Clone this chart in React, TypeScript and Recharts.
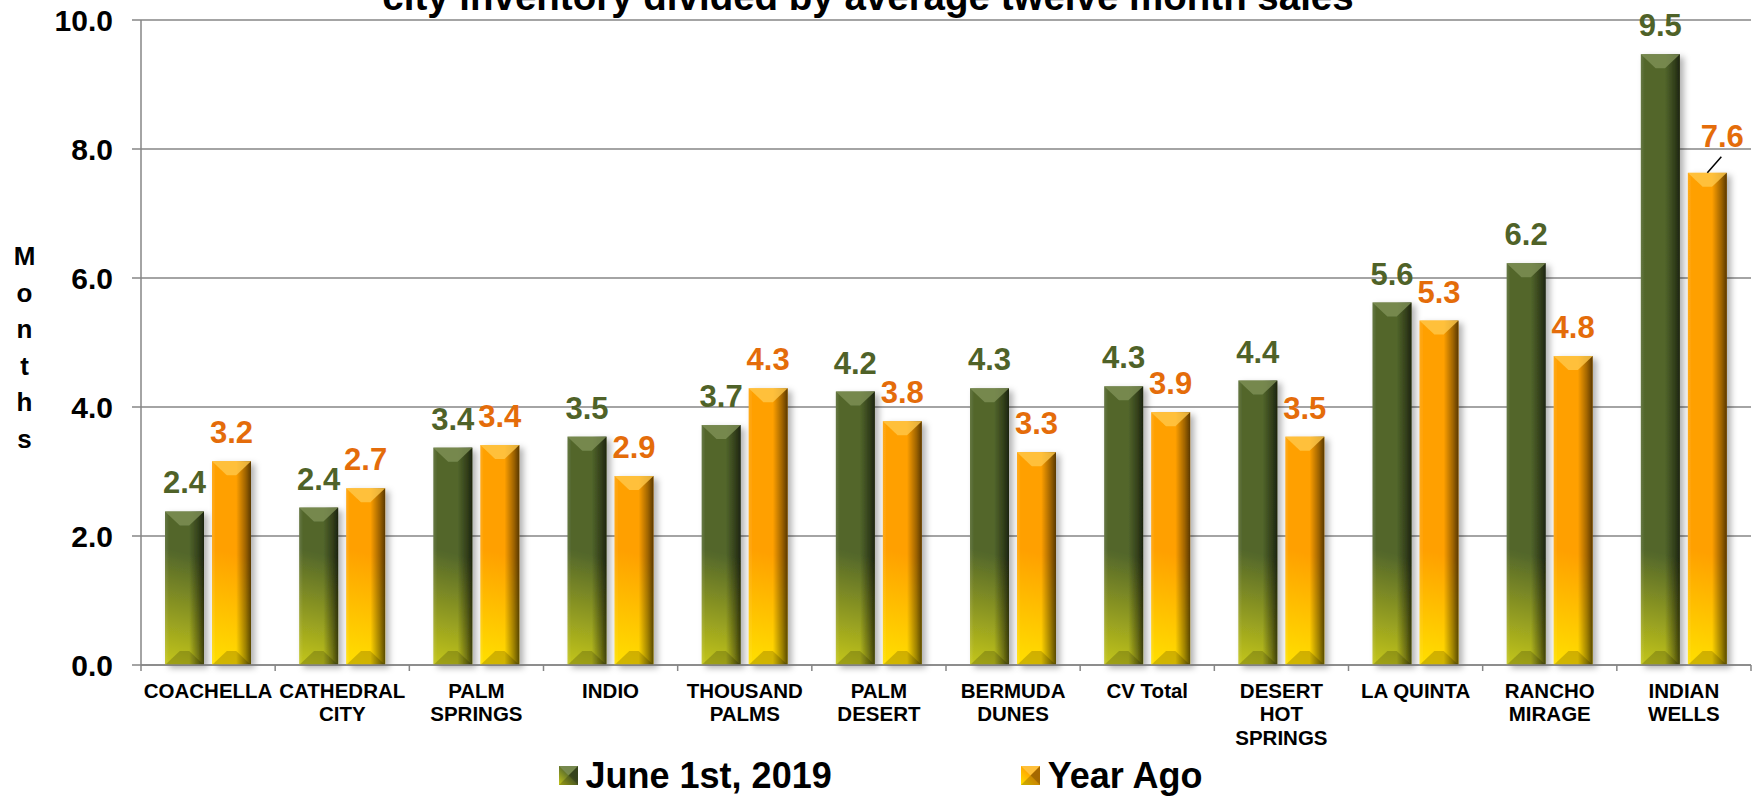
import React from 'react';
import { BarChart, Bar, XAxis, YAxis, CartesianGrid, Legend, LabelList } from 'recharts';

const FONT = '"Liberation Sans", Arial, Helvetica, sans-serif';

const categories = [
  'COACHELLA',
  'CATHEDRAL\nCITY',
  'PALM\nSPRINGS',
  'INDIO',
  'THOUSAND\nPALMS',
  'PALM\nDESERT',
  'BERMUDA\nDUNES',
  'CV Total',
  'DESERT\nHOT\nSPRINGS',
  'LA QUINTA',
  'RANCHO\nMIRAGE',
  'INDIAN\nWELLS',
];
const june2019 = [2.38, 2.44, 3.37, 3.54, 3.72, 4.24, 4.29, 4.32, 4.41, 5.62, 6.23, 9.47];
const yearAgo = [3.16, 2.74, 3.41, 2.93, 4.29, 3.78, 3.3, 3.92, 3.54, 5.34, 4.79, 7.63];
const yTicks = [0, 2, 4, 6, 8, 10];
const seriesNames = ['June 1st, 2019', 'Year Ago'];
const titleText = 'city inventory divided by average twelve month sales';
const yAxisTitle = 'Months';
const LEADER_INDEX = 11;

const rows = categories.map((name, i) => ({ name, june: june2019[i], ago: yearAgo[i] }));

const GRID = '#868686';

const PALETTE: Record<string, any> = {
  green: { base: '#52662b', bottom: '#c4c61a', bevel: '#7f9157', label: '#4f6228' },
  orange: { base: '#ffa000', bottom: '#ffe000', bevel: '#ffc84a', label: '#e46c0a' },
};

const makeShape = (kind: string) => (props: any) => {
  const { x, y, width: w, height: h, index } = props;
  if (!h || h <= 0) return null;
  const c = PALETTE[kind];
  const id = `grad-${kind}-${index}`;
  const bottom = y + h;
  const bev = Math.min(14, h / 2);
  return (
    <g filter="url(#barShadow)">
      <defs>
        <linearGradient
          id={id}
          gradientUnits="userSpaceOnUse"
          x1={x}
          y1={bottom}
          x2={x + w * 0.7}
          y2={bottom - 110}
        >
          <stop offset="0" stopColor={c.bottom} />
          <stop offset="1" stopColor={c.base} />
        </linearGradient>
      </defs>
      <rect x={x} y={y} width={w} height={h} fill={`url(#${id})`} />
      <rect x={x} y={y} width={w} height={h} fill="url(#hShade)" />
      <polygon
        points={`${x},${y} ${x + w},${y} ${x + w * 0.62},${y + bev} ${x + w * 0.38},${y + bev}`}
        fill={c.bevel}
        opacity={0.8}
      />
      <polygon
        points={`${x},${bottom} ${x + w},${bottom} ${x + w * 0.62},${bottom - bev} ${x + w * 0.38},${bottom - bev}`}
        fill="#000"
        opacity={0.18}
      />
    </g>
  );
};

const greenShape = makeShape('green');
const orangeShape = makeShape('orange');

const ValueLabel = (kind: string) => (props: any) => {
  const vb = props.viewBox || props;
  const x = vb.x ?? props.x;
  const y = vb.y ?? props.y;
  const w = vb.width ?? props.width;
  const value = props.value;
  const index = props.index;
  const c = PALETTE[kind];
  const cx = x + w / 2;
  const lead = kind === 'orange' && index === LEADER_INDEX;
  const text = Number(value).toFixed(1);
  if (lead) {
    return (
      <g>
        <line x1={cx} y1={y} x2={cx + 14} y2={y - 16} stroke="#000" strokeWidth={1.5} />
        <text x={cx + 15} y={y - 26} textAnchor="middle" fontSize={31} fontWeight="bold" fontFamily={FONT} fill={c.label}>
          {text}
        </text>
      </g>
    );
  }
  return (
    <text x={cx} y={y - 18} textAnchor="middle" fontSize={31} fontWeight="bold" fontFamily={FONT} fill={c.label}>
      {text}
    </text>
  );
};

const XTick = (props: any) => {
  const { x, y, payload, index, visibleTicksCount, width } = props;
  const count = visibleTicksCount || categories.length;
  const half = payload && payload.offset ? payload.offset : width / count / 2;
  const lines = String(payload.value).split('\n');
  const isLast = index === count - 1;
  return (
    <g>
      <line x1={x - half} x2={x - half} y1={y} y2={y + 6} stroke={GRID} strokeWidth={1.5} />
      {isLast && <line x1={x + half} x2={x + half} y1={y} y2={y + 6} stroke={GRID} strokeWidth={1.5} />}
      <text x={x} y={y + 33} textAnchor="middle" fontSize={20.5} fontWeight="bold" fontFamily={FONT} fill="#000">
        {lines.map((l, i) => (
          <tspan key={i} x={x} dy={i === 0 ? 0 : 23.3}>
            {l}
          </tspan>
        ))}
      </text>
    </g>
  );
};

const MonthsLabel = (props: any) => {
  const vb = props.viewBox || { x: 0 };
  const letters = yAxisTitle.split('');
  return (
    <text x={(vb.x || 0) + 24.5} y={265} textAnchor="middle" fontSize={26} fontWeight="bold" fontFamily={FONT} fill="#000">
      {letters.map((l, i) => (
        <tspan key={i} x={(vb.x || 0) + 24.5} dy={i === 0 ? 0 : 36.5}>
          {l}
        </tspan>
      ))}
    </text>
  );
};

const LegendIcon = ({ kind }: { kind: string }) => {
  const c = PALETTE[kind];
  return (
    <svg width={19} height={19} style={{ display: 'block' }}>
      <defs>
        <linearGradient id={`lg-${kind}`} x1="0" y1="1" x2="1" y2="0">
          <stop offset="0" stopColor={c.bottom} />
          <stop offset="0.6" stopColor={c.base} />
        </linearGradient>
      </defs>
      <rect x={0} y={0} width={19} height={19} fill={`url(#lg-${kind})`} />
      <polygon points="0,0 19,0 9.5,9.5" fill={c.bevel} opacity={0.8} />
      <polygon points="19,0 19,19 9.5,9.5" fill="#000" opacity={0.35} />
      <polygon points="0,19 19,19 9.5,9.5" fill="#000" opacity={0.2} />
    </svg>
  );
};

const renderLegend = () => (
  <div
    style={{
      display: 'flex',
      justifyContent: 'center',
      alignItems: 'center',
      gap: 189,
      height: 50,
      boxSizing: 'border-box',
      paddingTop: 5,
      paddingLeft: 10,
      fontFamily: FONT,
      fontWeight: 'bold',
      fontSize: 36,
      color: '#000',
    }}
  >
    {['green', 'orange'].map((k, i) => (
      <div key={k} style={{ display: 'flex', alignItems: 'center' }}>
        <LegendIcon kind={k} />
        <span style={{ marginLeft: 8 }}>{seriesNames[i]}</span>
      </div>
    ))}
  </div>
);

export default function App() {
  return (
    <div style={{ position: 'absolute', left: 0, top: 0, width: 1756, height: 798, background: '#fff' }}>
      <BarChart width={1756} height={798} data={rows} margin={{ top: 20, right: 5, bottom: 0, left: 0 }} barGap={8}>
        <defs>
          <linearGradient id="hShade" x1="0" y1="0" x2="1" y2="0">
            <stop offset="0" stopColor="#fff" stopOpacity={0.12} />
            <stop offset="0.1" stopColor="#fff" stopOpacity={0} />
            <stop offset="0.62" stopColor="#000" stopOpacity={0} />
            <stop offset="0.86" stopColor="#000" stopOpacity={0.38} />
            <stop offset="1" stopColor="#000" stopOpacity={0.65} />
          </linearGradient>
          <filter id="barShadow" x="-20%" y="-10%" width="160%" height="125%">
            <feDropShadow dx={4} dy={3} stdDeviation={3} floodColor="#000" floodOpacity={0.3} />
          </filter>
        </defs>
        <CartesianGrid vertical={false} stroke={GRID} strokeWidth={1.5} />
        <XAxis
          dataKey="name"
          height={83}
          interval={0}
          tickLine={false}
          tickSize={0}
          tickMargin={0}
          axisLine={{ stroke: GRID, strokeWidth: 1.5 }}
          tick={<XTick />}
        />
        <YAxis
          width={141}
          domain={[0, 10]}
          ticks={yTicks}
          interval={0}
          tickFormatter={(v: number) => v.toFixed(1)}
          tickSize={9}
          tickMargin={19}
          axisLine={{ stroke: GRID, strokeWidth: 1.5 }}
          tickLine={{ stroke: GRID, strokeWidth: 1.5 }}
          tick={{ fontSize: 30, fontWeight: 'bold', fill: '#000', fontFamily: FONT }}
          label={{ content: (p: any) => <MonthsLabel {...p} /> }}
        />
        <Legend verticalAlign="bottom" content={renderLegend} />
        <Bar dataKey="june" name={seriesNames[0]} barSize={39} shape={greenShape} isAnimationActive={false}>
          <LabelList dataKey="june" content={ValueLabel('green')} />
        </Bar>
        <Bar dataKey="ago" name={seriesNames[1]} barSize={39} shape={orangeShape} isAnimationActive={false}>
          <LabelList dataKey="ago" content={ValueLabel('orange')} />
        </Bar>
        <text x={868} y={10} textAnchor="middle" fontSize={38.5} fontWeight="bold" fontFamily={FONT} fill="#000">
          {titleText}
        </text>
      </BarChart>
    </div>
  );
}
